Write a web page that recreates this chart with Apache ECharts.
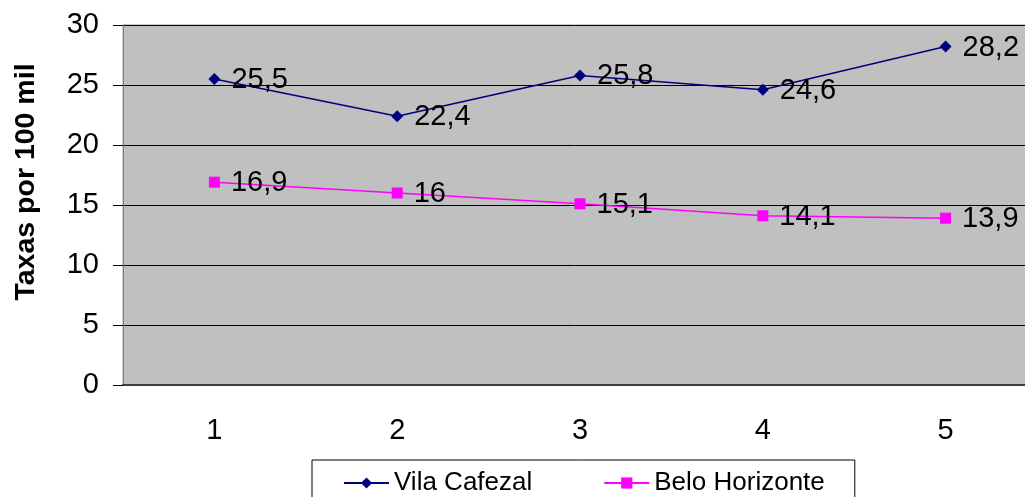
<!DOCTYPE html>
<html>
<head>
<meta charset="utf-8">
<script src="https://cdn.jsdelivr.net/npm/echarts@6/dist/echarts.min.js"></script>
<style>
html, body { margin: 0; padding: 0; background: #fff; }
#chart { width: 1025px; height: 497px; }
</style>
</head>
<body>
<div id="chart"></div>
<script>
var categories = ['1', '2', '3', '4', '5'];
var vilaCafezal = [25.5, 22.4, 25.8, 24.6, 28.2];
var beloHorizonte = [16.9, 16, 15.1, 14.1, 13.9];
var seriesNames = ['Vila Cafezal', 'Belo Horizonte'];

var font = 'Arial, "Liberation Sans", sans-serif';

function commaLabel(p) {
    return String(p.value).replace('.', ',');
}

var myChart = echarts.init(document.getElementById('chart'));
var option = {
    animation: false,
    textStyle: { fontFamily: font },
    grid: {
        left: 123,
        top: 25,
        right: -12,
        bottom: 112,
        outerBoundsMode: 'none',
        containLabel: false,
        show: true,
        backgroundColor: '#C0C0C0',
        borderColor: '#999999',
        borderWidth: 1
    },
    legend: {
        data: seriesNames,
        left: 312,
        top: 460,
        orient: 'horizontal',
        backgroundColor: '#fff',
        borderColor: '#000',
        borderWidth: 1,
        padding: [10, 30, 20, 31],
        itemGap: 71,
        itemWidth: 45,
        itemHeight: 14,
        textStyle: { fontSize: 26, color: '#000', fontFamily: font }
    },
    xAxis: {
        type: 'category',
        data: categories,
        boundaryGap: true,
        axisLine: { lineStyle: { color: '#404040', width: 2 } },
        axisTick: { length: 10, lineStyle: { color: '#000' } },
        axisLabel: { fontSize: 29, color: '#000', margin: 31 },
        splitLine: { show: false }
    },
    yAxis: {
        type: 'value',
        min: 0,
        max: 30,
        interval: 5,
        name: 'Taxas por 100 mil',
        nameLocation: 'middle',
        nameGap: 82,
        nameTextStyle: { fontSize: 28.5, fontWeight: 'bold', color: '#000', padding: [0, 0, 0, 46] },
        axisLine: { show: true, lineStyle: { color: '#808080', width: 1 } },
        axisTick: { show: true, length: 10, lineStyle: { color: '#000' } },
        axisLabel: { fontSize: 29, color: '#000', margin: 24 },
        splitLine: { lineStyle: { color: '#000', width: 1 } }
    },
    series: [
        {
            name: seriesNames[0],
            type: 'line',
            data: vilaCafezal,
            symbol: 'diamond',
            symbolSize: 12,
            color: '#000080',
            lineStyle: { width: 1.5, color: '#000080' },
            label: { show: true, position: 'right', distance: 11, offset: [0, 1], fontSize: 29, color: '#000', formatter: commaLabel }
        },
        {
            name: seriesNames[1],
            type: 'line',
            data: beloHorizonte,
            symbol: 'rect',
            symbolSize: 11,
            color: '#FF00FF',
            lineStyle: { width: 1.5, color: '#FF00FF' },
            label: { show: true, position: 'right', distance: 11, offset: [0, 1], fontSize: 29, color: '#000', formatter: commaLabel }
        }
    ]
};
myChart.setOption(option);
</script>
</body>
</html>
